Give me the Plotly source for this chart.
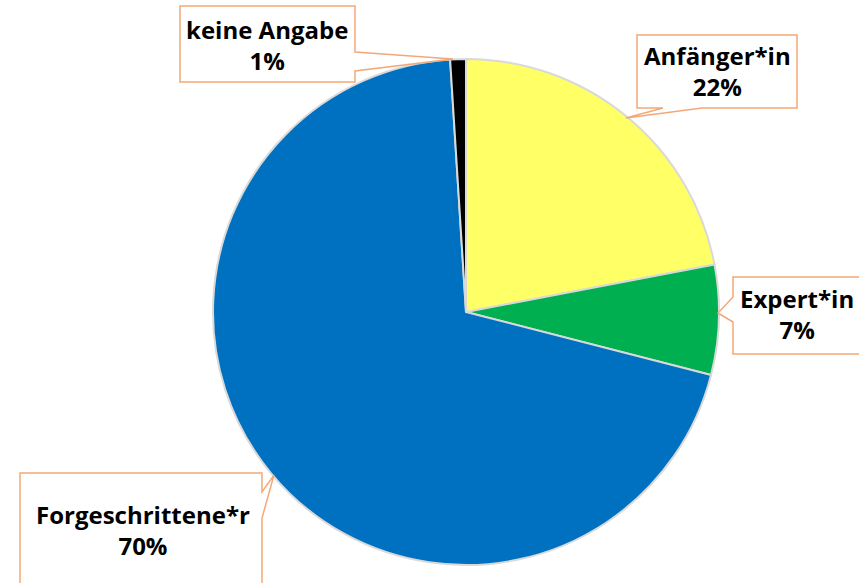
import plotly.graph_objects as go

# Kategorien und Anteile (Prozent)
labels = ["Anfänger*in", "Expert*in", "Forgeschrittene*r", "keine Angabe"]
values = [22, 7, 70, 1]
colors = ["#FFFF66", "#00B050", "#0070C0", "#000000"]

W, H = 859, 583

fig = go.Figure()
fig.add_trace(go.Pie(
    labels=labels,
    values=values,
    sort=False,
    direction="clockwise",
    rotation=0,
    textinfo="none",
    hoverinfo="label+percent",
    marker=dict(colors=colors, line=dict(color="#D9D9D9", width=2)),
    domain=dict(x=[213 / W, 719 / W], y=[(H - 565) / H, (H - 59) / H]),
    showlegend=False,
))


def px(x, y):
    return f"{x / W:.5f},{1 - y / H:.5f}"


# Callouts im Stil von Excel: Umriss (Box + Spitze) in Pixeln, Textmitte
callouts = [
    ("keine Angabe", (267, 45),
     [(180, 6), (355, 6), (355, 52), (453, 59), (355, 71), (355, 82), (180, 82)]),
    ("Anfänger*in", (717, 71),
     [(637, 35), (797, 35), (797, 108), (702, 108), (626, 118), (663, 108), (637, 108)]),
    ("Expert*in", (797, 314),
     [(733, 277), (880, 277), (880, 354), (733, 354), (733, 322), (718, 313), (733, 297)]),
    ("Forgeschrittene*r", (143, 530),
     [(20, 473), (262, 473), (262, 492), (274, 475), (262, 518), (262, 600), (20, 600)]),
]
for name, ctr, outline in callouts:
    path = "M " + " L ".join(px(x, y) for x, y in outline) + " Z"
    fig.add_shape(type="path", path=path, xref="paper", yref="paper",
                  fillcolor="white", line=dict(color="#F4A878", width=1.5),
                  layer="above")
    pct = values[labels.index(name)]
    fig.add_annotation(
        x=ctr[0] / W, y=1 - ctr[1] / H, xref="paper", yref="paper",
        text=f"<b>{name}<br>{pct}%</b>", showarrow=False,
        font=dict(family="Open Sans, sans-serif", size=24, color="#000000"),
        align="center", xanchor="center", yanchor="middle",
    )

fig.update_layout(
    width=W, height=H,
    margin=dict(l=0, r=0, t=0, b=0),
    paper_bgcolor="white",
    plot_bgcolor="white",
)

fig.write_html("out.html", config={"displayModeBar": False},
               post_script="document.body.style.margin='0px';")
